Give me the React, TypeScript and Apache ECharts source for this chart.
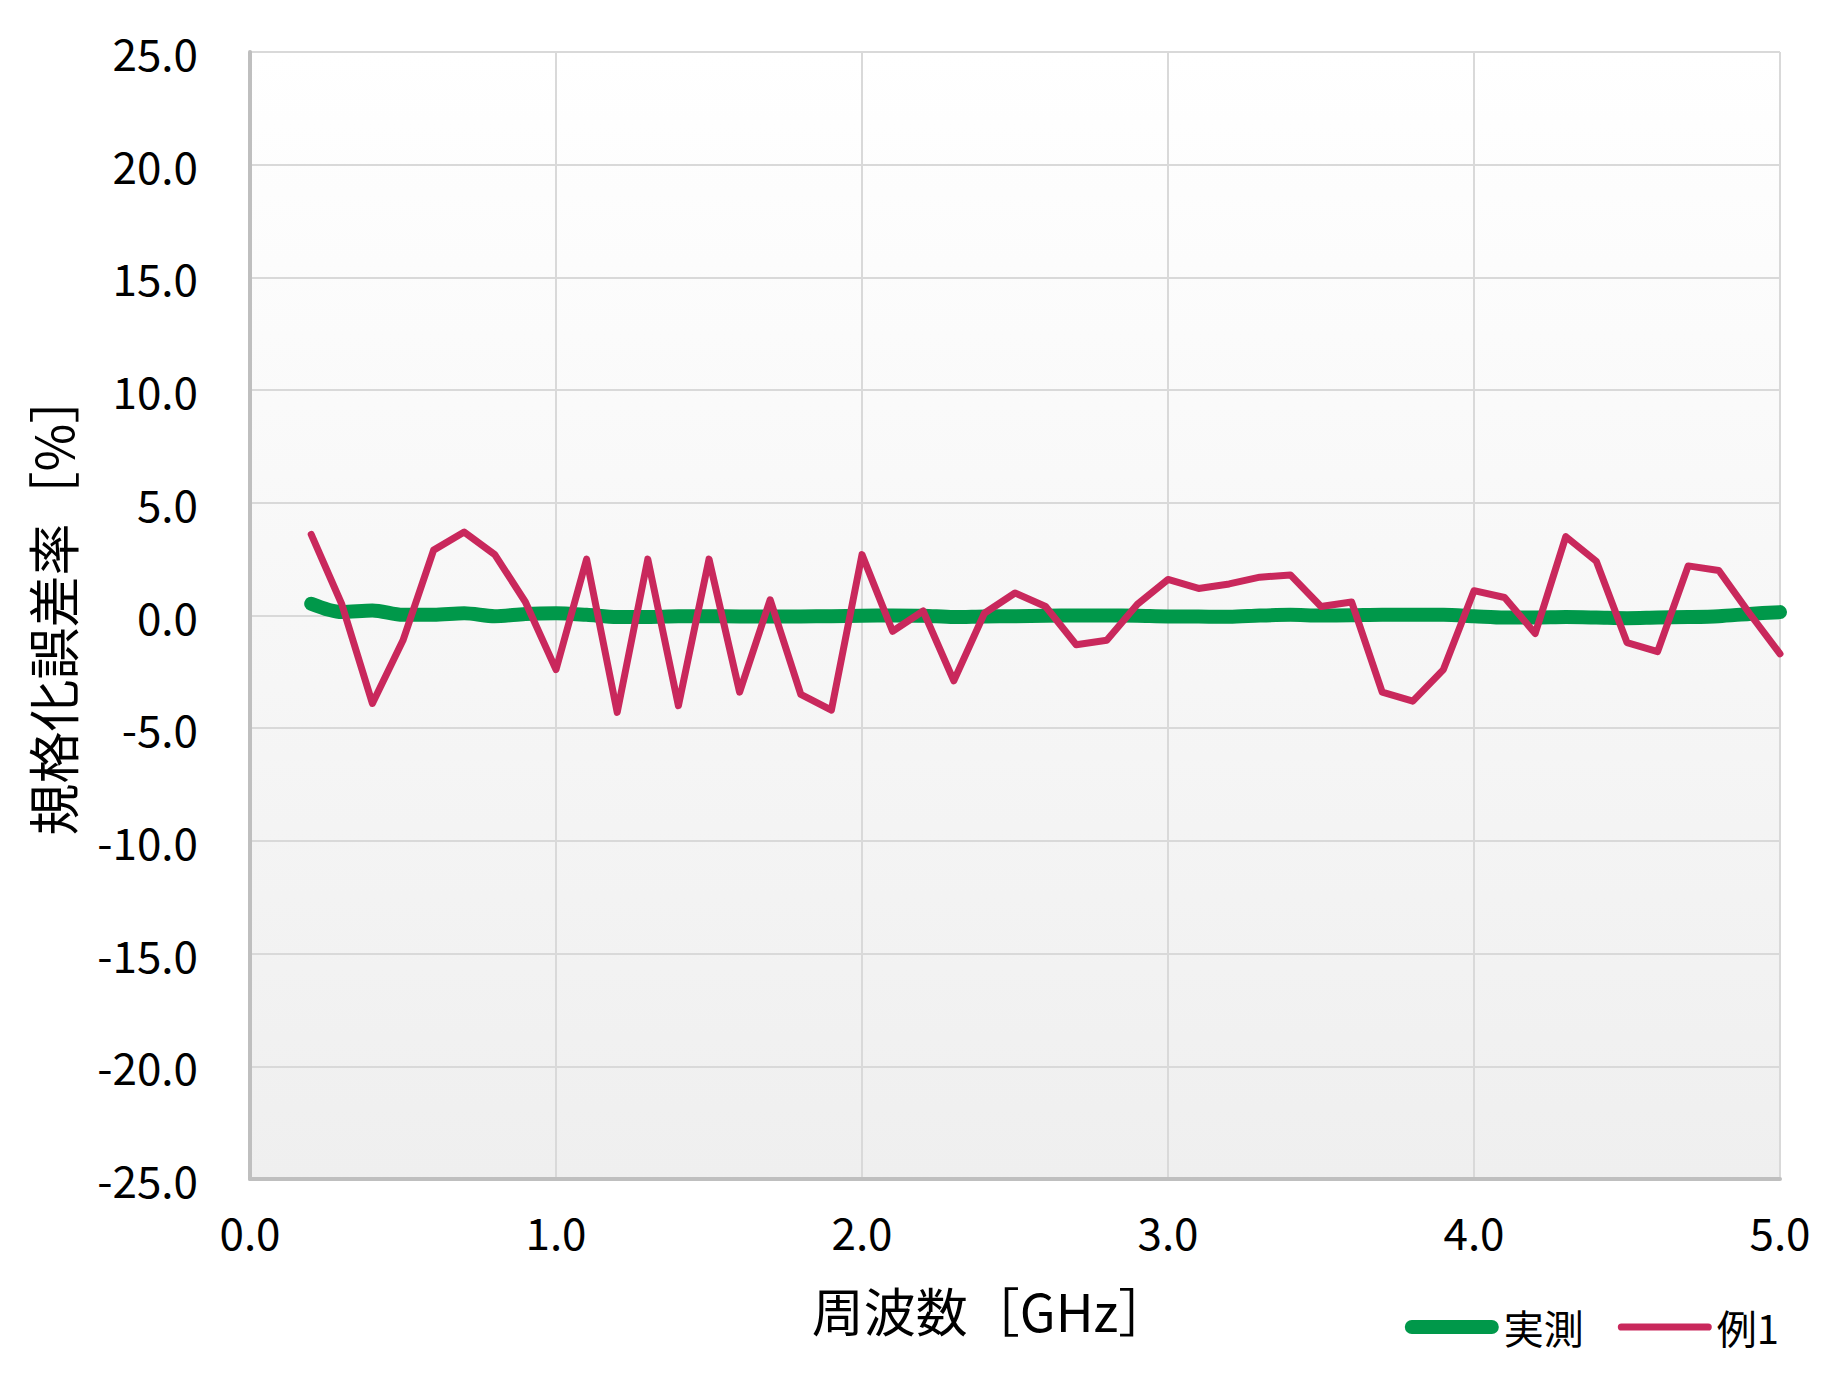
import React, { useEffect, useRef } from "react";
import * as echarts from "echarts";

const freqGHz = [
  0.2, 0.3, 0.4, 0.5, 0.6, 0.7, 0.8, 0.9, 1.0,
  1.1, 1.2, 1.3, 1.4, 1.5, 1.6, 1.7, 1.8, 1.9, 2.0,
  2.1, 2.2, 2.3, 2.4, 2.5, 2.6, 2.7, 2.8, 2.9, 3.0,
  3.1, 3.2, 3.3, 3.4, 3.5, 3.6, 3.7, 3.8, 3.9, 4.0,
  4.1, 4.2, 4.3, 4.4, 4.5, 4.6, 4.7, 4.8, 4.9, 5.0,
];

const measured = [
  0.52, 0.15, 0.22, 0.03, 0.03, 0.1, -0.03, 0.07, 0.1,
  0.03, -0.07, -0.07, -0.03, -0.03, -0.04, -0.04, -0.04, -0.03, -0.01,
  0.0, -0.01, -0.07, -0.04, -0.03, -0.01, 0.0, 0.0, -0.01, -0.04,
  -0.04, -0.06, 0.0, 0.03, 0.0, 0.01, 0.03, 0.03, 0.03, -0.03,
  -0.09, -0.09, -0.07, -0.09, -0.12, -0.09, -0.07, -0.03, 0.07, 0.15,
];

const example1 = [
  3.6, 0.5, -3.9, -1.1, 2.9, 3.7, 2.7, 0.6, -2.4,
  2.5, -4.3, 2.5, -4.0, 2.5, -3.4, 0.7, -3.5, -4.2, 2.7,
  -0.7, 0.2, -2.9, 0.1, 1.0, 0.4, -1.3, -1.1, 0.5, 1.6,
  1.2, 1.4, 1.7, 1.8, 0.4, 0.6, -3.4, -3.8, -2.4, 1.1,
  0.8, -0.8, 3.5, 2.4, -1.2, -1.6, 2.2, 2.0, 0.1, -1.7,
];

const seriesNames = ["実測", "例1"];
const seriesColors = ["#00984a", "#c9285c"];
const xTitle = "周波数［GHz］";
const yTitle = "規格化誤差率［%］";

const FONT = '"Noto Sans CJK JP", "Noto Sans", sans-serif';

const greenIcon = "path://M7,0 L87,0 A7,7 0 0 1 87,14 L7,14 A7,7 0 0 1 7,0 Z";
const redIcon = "path://M3.5,0 L87.5,0 A3.5,3.5 0 0 1 87.5,7 L3.5,7 A3.5,3.5 0 0 1 3.5,0 Z";

export default function App() {
  const ref = useRef<HTMLDivElement>(null);

  useEffect(() => {
    if (!ref.current) return;
    const chart = echarts.init(ref.current, undefined, { renderer: "svg" });
    const pairs = (ys: number[]) => freqGHz.map((x, i) => [x, ys[i]]);

    chart.setOption({
      animation: false,
      textStyle: { fontFamily: FONT },
      grid: {
        left: 250,
        right: 64,
        top: 52,
        bottom: 197,
        show: true,
        borderWidth: 0,
        backgroundColor: new echarts.graphic.LinearGradient(0, 0, 0, 1, [
          { offset: 0, color: "#ffffff" },
          { offset: 1, color: "#efefef" },
        ]),
      },
      xAxis: {
        type: "value",
        min: 0,
        max: 5,
        interval: 1,
        name: xTitle,
        nameLocation: "middle",
        nameGap: 104,
        nameTextStyle: {
          fontFamily: FONT,
          fontSize: 52,
          color: "#000",
          padding: [0, 48, 0, 0],
        },
        axisLine: { show: true, onZero: false, lineStyle: { color: "#bfbfbf", width: 4 } },
        axisTick: { show: false },
        axisLabel: {
          fontFamily: FONT,
          fontSize: 44,
          color: "#000",
          margin: 30,
          formatter: (v: number) => v.toFixed(1),
        },
        splitLine: { show: true, lineStyle: { color: "#d9d9d9", width: 2 } },
      },
      yAxis: {
        type: "value",
        min: -25,
        max: 25,
        interval: 5,
        name: yTitle,
        nameLocation: "middle",
        nameGap: 173,
        nameRotate: 90,
        nameTextStyle: {
          fontFamily: FONT,
          fontSize: 52,
          color: "#000",
          padding: [0, 0, 0, 24],
        },
        axisLine: { show: true, onZero: false, lineStyle: { color: "#bfbfbf", width: 4 } },
        axisTick: { show: false },
        axisLabel: {
          fontFamily: FONT,
          fontSize: 44,
          color: "#000",
          margin: 52,
          padding: [0, 0, 10, 0],
          formatter: (v: number) => v.toFixed(1),
        },
        splitLine: { show: true, lineStyle: { color: "#d9d9d9", width: 2 } },
      },
      legend: {
        right: 60,
        top: 1302,
        itemWidth: 94,
        itemHeight: 14,
        itemGap: 34,
        textStyle: { fontFamily: FONT, fontSize: 40, color: "#000" },
        data: [
          { name: seriesNames[0], icon: greenIcon, itemStyle: { color: seriesColors[0] } },
          { name: seriesNames[1], icon: redIcon, itemStyle: { color: seriesColors[1] } },
        ],
      },
      series: [
        {
          name: seriesNames[0],
          type: "line",
          data: pairs(measured),
          showSymbol: false,
          symbol: "none",
          smooth: 0.3,
          lineStyle: { color: seriesColors[0], width: 14, cap: "round", join: "round" },
          itemStyle: { color: seriesColors[0] },
          z: 2,
        },
        {
          name: seriesNames[1],
          type: "line",
          data: pairs(example1),
          showSymbol: false,
          symbol: "none",
          lineStyle: { color: seriesColors[1], width: 7, cap: "round", join: "round" },
          itemStyle: { color: seriesColors[1] },
          z: 3,
        },
      ],
    });
    return () => chart.dispose();
  }, []);

  return (
    <div
      ref={ref}
      style={{ position: "fixed", left: 0, top: 0, width: 1844, height: 1376, background: "#fff" }}
    />
  );
}
